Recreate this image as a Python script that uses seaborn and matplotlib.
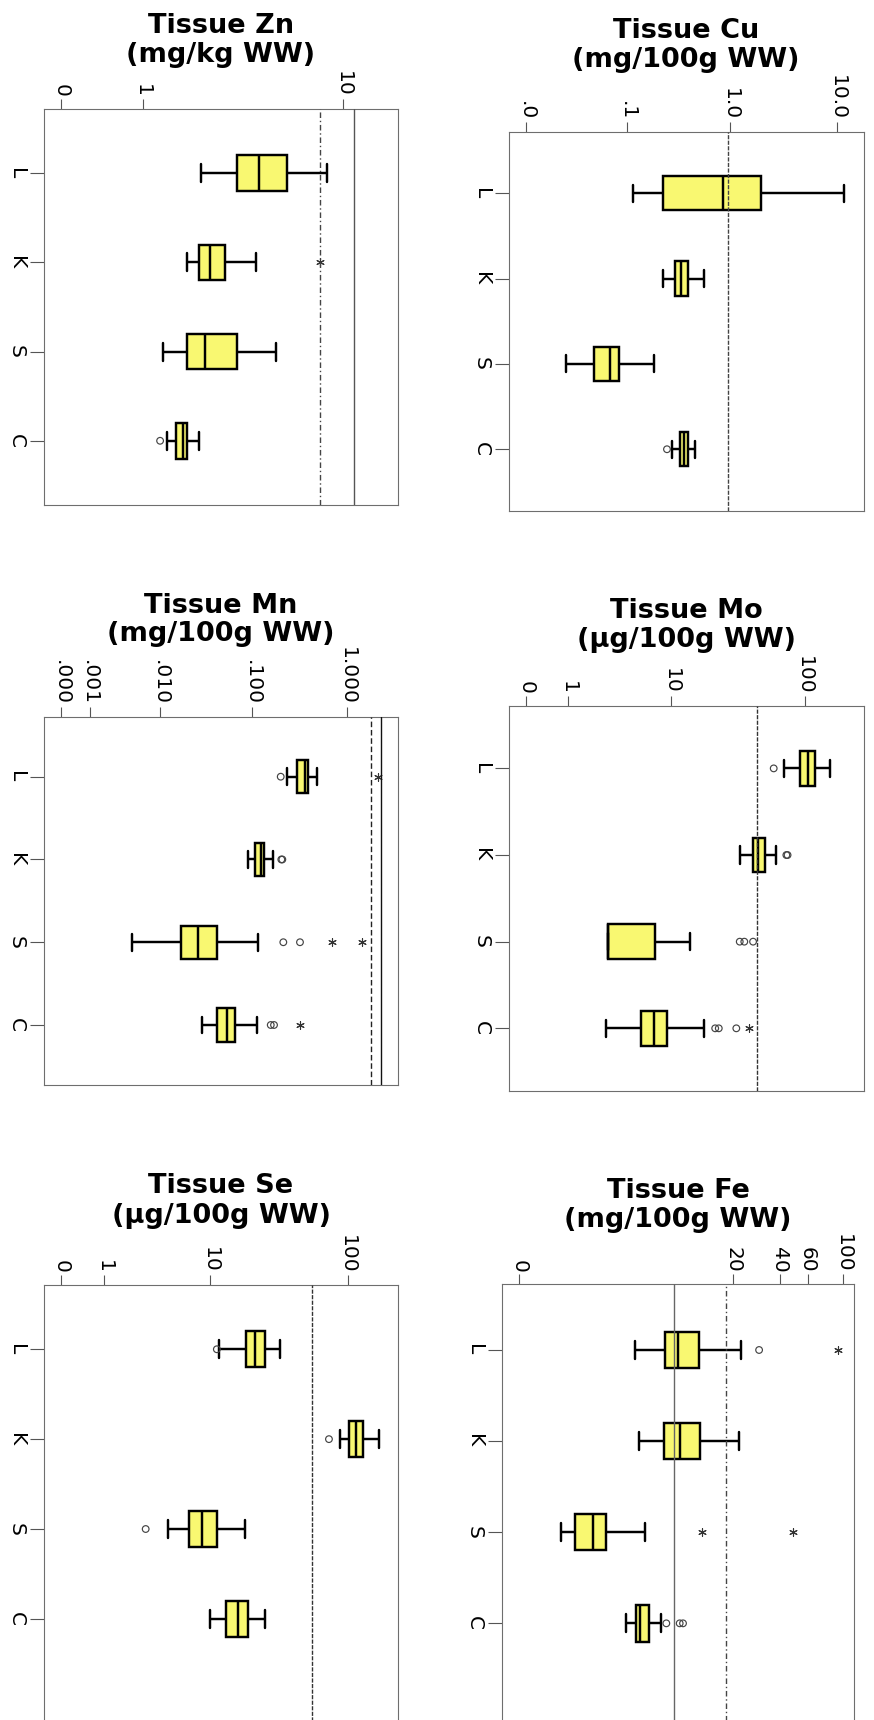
import numpy as np
import pandas as pd
import matplotlib
matplotlib.use("Agg")
import matplotlib.pyplot as plt
from matplotlib.ticker import NullLocator
import seaborn as sns

# ---------------------------------------------------------------- data
groups = ["L", "K", "S", "C"]

# five-number summaries: lower whisker, Q1, median, Q3, upper whisker
zn_box = {"L": [2.29, 3.45, 4.36, 5.80, 8.55],
          "K": [1.91, 2.24, 2.55, 3.03, 4.24],
          "S": [1.37, 1.91, 2.39, 3.45, 5.21],
          "C": [1.45, 1.66, 1.83, 1.91, 2.22]}
zn_outliers = {"C": [1.32]}
zn_extremes = {"K": [8.03]}
zn_refs = [8.0, 11.06]
zn_ticks = [0, 1, 10]
zn_ticklabels = ["0", "1", "10"]

cu_box = {"L": [0.115, 0.228, 0.861, 1.955, 11.65],
          "K": [0.227, 0.298, 0.346, 0.398, 0.573],
          "S": [0.0175, 0.0422, 0.0647, 0.0818, 0.186],
          "C": [0.281, 0.338, 0.369, 0.403, 0.471]}
cu_outliers = {"C": [0.251]}
cu_extremes = {}
cu_refs = [0.96]
cu_ticks = [0, 0.1, 1, 10]
cu_ticklabels = [".0", ".1", "1.0", "10.0"]

mn_box = {"L": [0.231, 0.295, 0.360, 0.384, 0.478],
          "K": [0.0909, 0.108, 0.124, 0.134, 0.167],
          "S": [0.00459, 0.0171, 0.0263, 0.0419, 0.114],
          "C": [0.0293, 0.0419, 0.0536, 0.0661, 0.113]}
mn_outliers = {"L": [0.200], "K": [0.203, 0.208], "S": [0.213, 0.319],
               "C": [0.157, 0.170]}
mn_extremes = {"L": [2.117], "S": [0.697, 1.418], "C": [0.319]}
mn_refs = [1.762, 2.243]
mn_ticks = [0, 0.001, 0.01, 0.1, 1]
mn_ticklabels = [".000", ".001", ".010", ".100", "1.000"]

mo_box = {"L": [70.3, 92.9, 105.2, 119.4, 151.8],
          "K": [33.4, 41.9, 45.3, 51.0, 61.5],
          "S": [2.87, 2.87, 2.87, 7.40, 14.0],
          "C": [2.75, 5.69, 7.35, 9.3, 17.9]}
mo_outliers = {"L": [59.4], "K": [73.5, 75.0], "S": [33.4, 36.1, 41.9],
               "C": [21.9, 23.3, 31.5]}
mo_extremes = {"C": [38.9]}
mo_refs = [44.8]
mo_ticks = [0, 1, 10, 100]
mo_ticklabels = ["0", "1", "10", "100"]

se_box = {"L": [11.8, 18.6, 21.7, 25.7, 33.0],
          "K": [88.3, 102.8, 114.6, 127.8, 166.4],
          "S": [4.63, 6.89, 8.64, 11.4, 18.3],
          "C": [10.0, 13.2, 16.4, 19.2, 25.7]}
se_outliers = {"L": [11.3], "K": [73.8], "S": [2.91]}
se_extremes = {}
se_refs = [55.6]
se_ticks = [0, 1, 10, 100]
se_ticklabels = ["0", "1", "10", "100"]

fe_box = {"L": [4.22, 7.04, 8.68, 12.0, 22.6],
          "K": [4.55, 6.86, 8.87, 12.1, 22.0],
          "S": [0.82, 1.23, 1.86, 2.44, 5.05],
          "C": [3.61, 4.32, 4.63, 5.35, 6.56]}
fe_outliers = {"L": [29.6], "C": [7.16, 8.87, 9.35]}
fe_extremes = {"L": [92.8], "S": [12.6, 48.6]}
fe_refs = [8.06, 18.2]
fe_ticks = [0, 20, 40, 60, 100]
fe_ticklabels = ["0", "20", "40", "60", "100"]

# ---------------------------------------------------------------- style
sns.set_theme(style="ticks")
plt.rcParams["font.family"] = ["DejaVu Sans"]
plt.rcParams["text.color"] = "black"

BOX_FILL = "#F9F871"
FRAME = "#6e6e6e"
TICK = "#555555"
DASH = (0, (4, 2))
FINE = (0, (3, 1))
DASHDOT = (0, (4, 2, 1, 2))

W, H = 874, 1720
fig = plt.figure(figsize=(W / 100, H / 100), dpi=100)
fig.patch.set_facecolor("white")


def px_rect(left, right, top, bottom):
    return [left / W, 1 - bottom / H, (right - left) / W, (bottom - top) / H]


def shifted_log(c):
    def fwd(x):
        x = np.asarray(x, dtype=float)
        with np.errstate(divide="ignore", invalid="ignore"):
            return np.log10(np.clip(x + c, 1e-12, None))

    def inv(y):
        return 10.0 ** np.asarray(y, dtype=float) - c
    return fwd, inv


def long_form(d):
    rows = [(g, v) for g in groups for v in d.get(g, [])]
    return pd.DataFrame(rows, columns=["group", "value"])


panels = [
    dict(title=("Tissue Zn", "(mg/kg WW)"), box=zn_box, out=zn_outliers,
         ext=zn_extremes, refs=zn_refs, ref_styles=[(DASHDOT, "#444"), ("-", "#555")],
         ticks=zn_ticks, labels=zn_ticklabels, c=1.0, xlim=(-0.1366, 16.54),
         rect=(43.7, 398.3, 109, 505), ylim=(3.72, -0.72), tb=(32.7, 61.5)),
    dict(title=("Tissue Cu", "(mg/100g WW)"), box=cu_box, out=cu_outliers,
         ext=cu_extremes, refs=cu_refs, ref_styles=[(FINE, "#444")],
         ticks=cu_ticks, labels=cu_ticklabels, c=0.013, xlim=(-0.00402, 17.63),
         rect=(508.7, 863.7, 131.7, 510.7), ylim=(3.72, -0.72), tb=(37.7, 66.7)),
    dict(title=("Tissue Mn", "(mg/100g WW)"), box=mn_box, out=mn_outliers,
         ext=mn_extremes, refs=mn_refs, ref_styles=[(DASH, "#222"), ("-", "#111")],
         ticks=mn_ticks, labels=mn_ticklabels, c=0.001, xlim=(-0.000341, 3.432),
         rect=(43.7, 398.3, 716.7, 1085), ylim=(3.725, -0.725), tb=(612.7, 641.5)),
    dict(title=("Tissue Mo", "(µg/100g WW)"), box=mo_box, out=mo_outliers,
         ext=mo_extremes, refs=mo_refs, ref_styles=[(FINE, "#333")],
         ticks=mo_ticks, labels=mo_ticklabels, c=1.0, xlim=(-0.2531, 267.5),
         rect=(508.7, 863.7, 706, 1090.7), ylim=(3.72, -0.72), tb=(617.7, 646.7)),
    dict(title=("Tissue Se", "(µg/100g WW)"), box=se_box, out=se_outliers,
         ext=se_extremes, refs=se_refs, ref_styles=[(FINE, "#333")],
         ticks=se_ticks, labels=se_ticklabels, c=1.0, xlim=(-0.2431, 227.5),
         rect=(43.7, 398.3, 1285, 1760), ylim=(4.57, -0.715), tb=(1193.3, 1223.3)),
    dict(title=("Tissue Fe", "(mg/100g WW)"), box=fe_box, out=fe_outliers,
         ext=fe_extremes, refs=fe_refs, ref_styles=[("-", "#666"), (DASHDOT, "#444")],
         ticks=fe_ticks, labels=fe_ticklabels, c=1.0, xlim=(-0.215, 117.8),
         rect=(502, 854.3, 1284.3, 1760), ylim=(4.50, -0.721), tb=(1197.7, 1226.7)),
]

for p in panels:
    left, right, top, bottom = p["rect"]
    ax = fig.add_axes(px_rect(left, right, top, bottom))
    ax.set_facecolor("white")
    ax.set_xscale("function", functions=shifted_log(p["c"]))
    ax.set_xlim(*p["xlim"])

    sns.boxplot(data=long_form(p["box"]), x="value", y="group", order=groups,
                orient="y", whis=(0, 100), width=0.4, color=BOX_FILL,
                saturation=1, linecolor="black", linewidth=1.75,
                showfliers=False, ax=ax)

    if p["out"]:
        sns.stripplot(data=long_form(p["out"]), x="value", y="group",
                      order=groups, orient="y", jitter=False, marker="o",
                      size=4.8, facecolors="none", edgecolor="#444",
                      linewidth=0.85, ax=ax, zorder=4)
    if p["ext"]:
        sns.stripplot(data=long_form(p["ext"]), x="value", y="group",
                      order=groups, orient="y", jitter=False,
                      marker=(6, 2, 0), size=5.5, color="#333",
                      linewidth=0.8, ax=ax, zorder=4)

    for v, (ls, col) in zip(p["refs"], p["ref_styles"]):
        ax.axvline(v, color=col, linestyle=ls, linewidth=1.0, zorder=5)

    ax.set_xlim(*p["xlim"])
    ax.set_ylim(*p["ylim"])
    ax.set_xlabel("")
    ax.set_ylabel("")

    # value axis along the top
    ax.xaxis.tick_top()
    ax.set_xticks(p["ticks"])
    ax.set_xticklabels(p["labels"])
    ax.xaxis.set_minor_locator(NullLocator())
    ax.tick_params(axis="x", which="major", top=True, bottom=False,
                   labeltop=True, labelbottom=False, length=7.5, width=0.8,
                   color=TICK, pad=1.0, labelsize=14.5, labelrotation=-90,
                   labelcolor="black")

    ax.set_yticks(range(len(groups)))
    ax.set_yticklabels(groups)
    ax.tick_params(axis="y", length=10.4, width=0.8, color=TICK, pad=2.5,
                   labelsize=14.5, labelrotation=-90, labelcolor="black")
    for lab in ax.get_yticklabels():
        lab.set_va("center")

    for sp in ax.spines.values():
        sp.set_visible(True)
        sp.set_color(FRAME)
        sp.set_linewidth(0.8)

    cx = (left + right) / 2 / W
    fig.text(cx, 1 - p["tb"][0] / H, p["title"][0], ha="center", va="baseline",
             fontsize=19.5, fontweight="bold", color="black")
    fig.text(cx, 1 - p["tb"][1] / H, p["title"][1], ha="center", va="baseline",
             fontsize=19.5, fontweight="bold", color="black")

fig.savefig("out.png", dpi=100, facecolor="white")
